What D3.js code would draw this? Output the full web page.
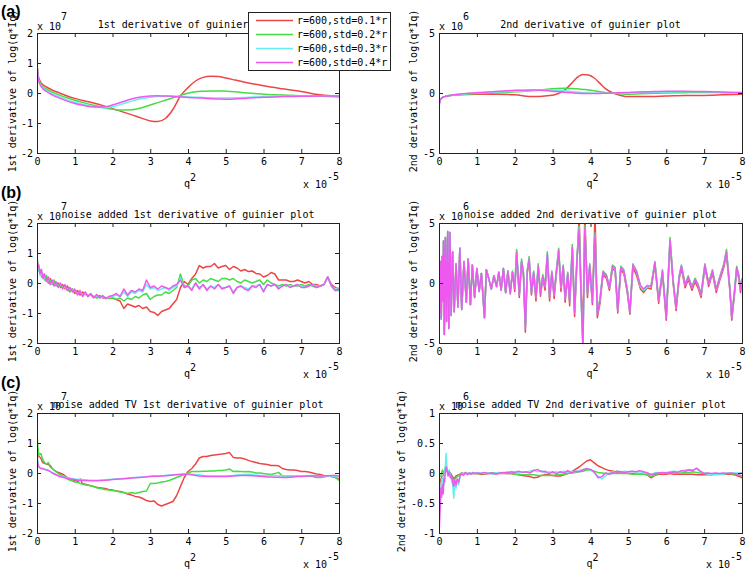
<!DOCTYPE html>
<html><head><meta charset="utf-8">
<script src="https://cdn.jsdelivr.net/npm/d3@7"></script>
<style>
body{margin:0;background:#fff}
svg{display:block}
text{font-family:"DejaVu Sans Mono",monospace;font-size:10px;fill:#000}
text.plabel{font-family:"Liberation Sans",Arial,sans-serif;font-weight:bold;font-size:16px}
</style>
</head><body>
<svg id="chart" width="746" height="569"></svg>
<script>
// ---------- shared ----------
const xTicks = [0,1,2,3,4,5,6,7,8];
const yTicks2 = [-2,-1,0,1,2];
const yTicks5 = [-5,0,5];
const yTicks1 = [-1,-0.5,0,0.5,1];
const seriesLabels = ["r=600,std=0.1*r","r=600,std=0.2*r","r=600,std=0.3*r","r=600,std=0.4*r"];
const seriesColors = ["#ee4646","#46dc46","#66eeee","#ee58ee"];
const panelLabels = ["(a)","(b)","(c)"];
const titles = ["1st derivative of guinier plot","2nd derivative of guinier plot",
  "noise added 1st derivative of guinier plot","noise added 2nd derivative of guinier plot",
  "noise added TV 1st derivative of guinier plot","noise added TV 2nd derivative of guinier plot"];
const yLabels = ["1st derivative of log(q*Iq)","2nd derivative of log(q*Iq)"];

// ---------- (a) left: 1st derivative (x1e-5, y1e7) ----------
const a1X = [0,0.03,0.08,0.15,0.25,0.4,0.6,0.8,1.0,1.25,
  1.5,1.75,2.0,2.25,2.5,2.75,3.0,3.2,3.4,3.6,
  3.8,4.0,4.2,4.4,4.6,4.8,5.0,5.25,5.5,5.75,
  6.0,6.5,7.0,7.5,8.0];
const a1Red = [0.95,0.6,0.4,0.28,0.2,0.1,0.0,-0.1,-0.18,-0.26,
  -0.33,-0.42,-0.52,-0.62,-0.72,-0.83,-0.93,-0.95,-0.85,-0.55,
  -0.1,0.18,0.4,0.52,0.56,0.55,0.5,0.43,0.36,0.3,
  0.24,0.14,0.05,-0.06,-0.11];
const a1Green = [0.95,0.55,0.35,0.22,0.13,0.03,-0.07,-0.16,-0.24,-0.33,
  -0.41,-0.48,-0.54,-0.57,-0.56,-0.5,-0.4,-0.32,-0.24,-0.16,
  -0.08,-0.01,0.04,0.06,0.07,0.07,0.06,0.04,0.01,-0.02,
  -0.04,-0.07,-0.09,-0.11,-0.13];
const a1Cyan = [0.95,0.5,0.3,0.18,0.08,-0.02,-0.13,-0.23,-0.31,-0.39,
  -0.45,-0.49,-0.46,-0.37,-0.27,-0.19,-0.14,-0.12,-0.11,-0.11,
  -0.12,-0.13,-0.14,-0.15,-0.16,-0.17,-0.17,-0.16,-0.15,-0.13,
  -0.12,-0.11,-0.1,-0.1,-0.1];
const a1Magenta = [1.0,0.5,0.28,0.15,0.05,-0.06,-0.17,-0.27,-0.35,-0.42,
  -0.47,-0.47,-0.4,-0.3,-0.2,-0.13,-0.1,-0.09,-0.1,-0.11,
  -0.13,-0.15,-0.16,-0.17,-0.19,-0.2,-0.21,-0.2,-0.18,-0.16,
  -0.14,-0.12,-0.11,-0.1,-0.1];

// ---------- (a) right: 2nd derivative (y1e6) ----------
const a2X = [0,0.03,0.08,0.15,0.3,0.5,1.0,1.5,2.0,2.5,
  2.8,3.1,3.3,3.5,3.65,3.8,3.95,4.1,4.25,4.4,
  4.6,4.8,5.0,5.5,6.0,6.5,7.0,7.5,8.0];
const a2Red = [-1.0,-0.6,-0.4,-0.3,-0.2,-0.15,-0.1,-0.1,-0.15,-0.3,
  -0.25,-0.1,0.2,0.8,1.3,1.55,1.5,1.25,0.8,0.35,
  0.0,-0.2,-0.3,-0.3,-0.25,-0.2,-0.2,-0.15,-0.1];
const a2Green = [-1.0,-0.6,-0.4,-0.3,-0.2,-0.15,-0.05,0.0,0.1,0.2,
  0.3,0.38,0.4,0.38,0.35,0.3,0.25,0.18,0.1,0.03,
  -0.03,-0.07,-0.1,-0.05,0.0,0.03,0.05,0.03,0.0];
const a2Cyan = [-1.1,-0.6,-0.4,-0.3,-0.2,-0.12,0.0,0.08,0.15,0.22,
  0.25,0.22,0.18,0.12,0.08,0.03,0.0,-0.02,-0.03,-0.03,
  -0.02,0.0,0.02,0.05,0.08,0.1,0.1,0.05,0.0];
const a2Magenta = [-1.3,-0.6,-0.4,-0.3,-0.2,-0.1,0.03,0.12,0.22,0.25,
  0.2,0.12,0.07,0.02,-0.02,-0.04,-0.05,-0.05,-0.04,-0.02,
  0.0,0.03,0.05,0.1,0.15,0.15,0.12,0.08,0.05];

// ---------- (b) left: noisy 1st derivative ----------
const b1X = [0,0.02,0.05,0.08,0.12,0.16,0.2,0.25,0.3,0.35,
  0.4,0.45,0.5,0.56,0.62,0.68,0.74,0.8,0.87,0.94,
  1.0,1.07,1.14,1.21,1.28,1.35,1.42,1.5,1.58,1.66,
  1.74,1.82,1.9,
  2.0,2.1,2.2,2.3,2.4,2.5,2.6,2.7,2.8,2.9,
  3.0,3.1,3.2,3.3,3.4,3.5,3.6,3.7,3.8,3.9,
  4.0,4.1,4.2,4.3,4.4,4.5,4.6,4.7,4.8,4.9,
  5.0,5.1,5.2,5.3,5.4,5.5,5.6,5.7,5.8,5.9,
  6.0,6.1,6.2,6.3,6.4,6.5,6.6,6.7,6.8,6.9,
  7.0,7.1,7.2,7.3,7.4,7.5,7.6,7.7,7.8,7.9,
  8.0];
const b1Red = [0.85,0.55,0.45,0.35,0.3,0.25,0.15,0.2,0.0,0.15,
  0.0,0.05,-0.05,0.0,-0.15,-0.05,-0.2,-0.1,-0.25,-0.2,
  -0.35,-0.25,-0.4,-0.3,-0.38,-0.42,-0.4,-0.45,-0.48,-0.42,
  -0.5,-0.48,-0.52,
  -0.5,-0.55,-0.6,-0.85,-0.7,-0.75,-0.8,-0.75,-0.85,-0.8,
  -0.95,-0.98,-1.08,-0.95,-0.9,-0.85,-0.7,-0.55,-0.15,0.05,
  -0.05,0.15,0.3,0.58,0.5,0.55,0.55,0.65,0.5,0.55,
  0.58,0.45,0.55,0.5,0.4,0.45,0.38,0.4,0.32,0.3,
  0.2,0.25,0.35,0.3,0.1,0.1,0.1,0.05,0.05,0.1,
  0.05,0.0,0.05,-0.05,-0.05,-0.1,-0.05,0.2,-0.05,-0.15,
  -0.2];
const b1Green = [0.9,0.6,0.4,0.45,0.2,0.3,0.1,0.25,0.05,0.1,
  -0.05,0.1,-0.1,-0.05,-0.1,-0.15,-0.1,-0.2,-0.3,-0.2,
  -0.28,-0.35,-0.3,-0.4,-0.35,-0.45,-0.38,-0.45,-0.5,-0.45,
  -0.48,-0.5,-0.5,
  -0.5,-0.55,-0.5,-0.6,-0.5,-0.55,-0.45,-0.5,-0.4,-0.35,
  -0.55,-0.45,-0.4,-0.4,-0.3,-0.35,-0.25,-0.15,0.3,-0.1,
  -0.1,0.1,0.15,0.0,0.1,0.05,0.15,0.1,0.05,0.15,
  0.15,0.1,0.15,0.05,0.0,0.1,0.05,0.0,0.05,0.1,
  -0.05,0.1,0.0,-0.05,-0.1,-0.05,-0.1,-0.05,-0.1,-0.1,
  -0.05,-0.1,-0.05,-0.1,-0.15,-0.1,-0.05,0.2,-0.1,-0.25,
  -0.25];
const b1Cyan = [0.9,0.5,0.5,0.25,0.35,0.15,0.2,0.05,0.15,-0.05,
  0.05,-0.05,0.0,-0.1,-0.05,-0.15,-0.15,-0.2,-0.2,-0.25,
  -0.25,-0.35,-0.3,-0.42,-0.35,-0.45,-0.38,-0.48,-0.42,-0.5,
  -0.45,-0.5,-0.48,
  -0.45,-0.4,-0.45,-0.3,-0.45,-0.3,-0.35,-0.25,-0.3,-0.05,
  -0.2,-0.15,-0.25,-0.2,-0.15,-0.25,-0.15,-0.1,0.15,-0.15,
  -0.1,-0.2,0.0,-0.15,-0.05,-0.2,-0.1,-0.15,-0.05,-0.15,
  -0.15,-0.1,-0.3,-0.15,-0.1,-0.15,-0.2,-0.1,-0.1,-0.05,
  -0.25,-0.05,-0.1,-0.05,-0.15,-0.1,-0.05,-0.1,-0.1,-0.05,
  -0.1,-0.15,-0.1,-0.05,-0.1,-0.1,-0.05,0.2,-0.1,-0.2,
  -0.15];
const b1Magenta = [0.95,0.5,0.6,0.3,0.45,0.15,0.3,0.05,0.2,-0.05,
  0.1,-0.1,0.05,-0.15,0.0,-0.2,-0.05,-0.25,-0.15,-0.3,
  -0.2,-0.4,-0.25,-0.45,-0.3,-0.45,-0.35,-0.5,-0.38,-0.5,
  -0.42,-0.52,-0.45,
  -0.42,-0.35,-0.45,-0.2,-0.4,-0.25,-0.3,-0.2,-0.25,0.1,
  -0.15,-0.1,-0.2,-0.1,-0.15,-0.2,-0.1,-0.05,0.1,-0.15,
  -0.1,-0.25,0.0,-0.2,-0.05,-0.25,-0.1,-0.2,-0.05,-0.2,
  -0.15,-0.1,-0.35,-0.15,-0.1,-0.2,-0.25,-0.1,-0.15,-0.05,
  -0.3,-0.05,-0.1,-0.05,-0.2,-0.1,-0.05,-0.15,-0.1,-0.05,
  -0.15,-0.15,-0.1,-0.05,-0.15,-0.1,-0.05,0.2,-0.1,-0.25,
  -0.2];

// ---------- (b) right: noisy 2nd derivative ----------
const b2X = [0,0.02,0.04,0.06,0.08,0.10,0.12,0.14,0.17,0.20,
  0.23,0.26,0.29,0.32,0.36,0.40,0.45,0.50,0.55,0.60,
  0.66,0.72,0.77,0.83,0.88,0.94,1.00,1.06,1.12,1.20,
  1.25,1.32,1.38,1.45,1.52,1.58,1.64,1.70,1.76,1.82,
  1.88,1.94,2.00,2.05,2.12,2.18,2.23,2.28,2.33,2.38,
  2.44,2.50,2.56,2.62,2.68,2.74,2.80,2.86,2.92,2.98,
  3.04,3.10,3.16,3.22,3.28,3.33,3.40,3.45,3.52,3.58,
  3.64,3.70,3.75,3.80,3.85,3.92,3.98,4.05,4.12,4.18,
  4.25,4.33,4.42,4.50,4.58,4.65,4.72,4.80,4.88,4.97,
  5.04,5.12,5.22,5.32,5.40,5.50,5.60,5.70,5.80,5.90,
  6.00,6.10,6.18,6.26,6.34,6.40,6.50,6.58,6.68,6.76,
  6.84,6.92,7.02,7.12,7.22,7.32,7.42,7.52,7.59,7.68,
  7.73,7.80,7.86,7.92,7.96,8.00];
const b2Red = [1.5,-2.5,1.8,-3.0,2.2,-1.5,3.5,-4.3,3.8,-3.2,
  4.3,-3.8,4.2,-2.7,2.6,-2.4,1.6,-2.0,2.9,-2.2,
  1.8,-1.6,2.0,-1.8,1.5,-1.2,1.2,-0.7,0.8,-2.9,
  1.1,0.3,-0.5,0.6,-0.3,0.9,-0.6,1.2,-0.8,1.0,
  -0.9,0.9,-0.7,2.4,-1.2,1.6,0.6,-4.1,0.8,1.8,
  -1.0,0.7,-1.5,1.2,-1.1,0.4,-0.6,2.2,-1.5,0.7,
  -1.3,0.8,2.5,-0.7,1.2,-1.6,0.6,-1.9,2.6,-2.8,
  1.6,5.6,-0.5,-4.0,5.8,-1.2,1.3,-1.8,5.8,-2.9,
  -1.7,0.7,0.4,-0.6,1.2,1.0,-2.5,1.1,0.8,-0.8,
  -2.6,1.3,0.6,-0.5,-0.8,-0.4,-0.5,1.5,-1.7,0.8,
  -3.1,3.4,0.0,-2.3,0.3,1.2,-0.4,0.3,-0.6,0.1,
  -0.4,-1.2,1.3,-0.3,0.8,-0.8,0.3,1.3,2.4,-0.7,
  -3.1,-1.0,1.1,0.3,-0.8,0.1];
const b2Green = [1.5,-2.5,1.8,-3.0,2.2,-1.5,3.5,-4.3,3.8,-3.2,
  4.3,-3.8,4.2,-2.7,2.6,-2.4,1.6,-2.0,2.9,-2.2,
  1.8,-1.6,2.0,-1.8,1.5,-1.2,1.2,-0.7,0.8,-2.9,
  1.1,0.3,-0.5,0.6,-0.3,0.9,-0.6,1.2,-0.8,1.0,
  -0.8,1.0,-0.4,2.8,-0.9,2.0,0.9,-3.6,1.1,2.2,
  -0.7,1.0,-1.1,1.6,-0.8,0.7,-0.2,2.6,-1.1,1.0,
  -0.9,1.1,2.9,-0.3,1.5,-1.2,0.9,-1.5,3.2,-2.4,
  1.9,4.8,-0.9,-5.3,4.8,-0.8,1.6,-1.5,4.2,-2.5,
  -1.3,1.0,0.7,-0.3,1.5,1.3,-2.2,1.4,1.1,-0.5,
  -2.3,1.6,1.0,-0.35,-0.65,-0.35,-0.2,1.8,-1.4,1.1,
  -2.8,3.8,0.3,-2.0,0.6,1.5,-0.1,0.6,-0.3,0.4,
  -0.1,-0.9,1.6,0.0,1.1,-0.5,0.6,1.6,2.8,-0.4,
  -2.8,-0.7,1.4,0.6,-0.5,0.4];
const b2Cyan = [1.5,-2.5,1.8,-3.0,2.2,-1.5,3.5,-4.3,3.8,-3.2,
  4.3,-3.8,4.2,-2.7,2.6,-2.4,1.6,-2.0,2.9,-2.2,
  1.8,-1.6,2.0,-1.8,1.5,-1.2,1.2,-0.7,0.8,-2.9,
  1.1,0.3,-0.5,0.6,-0.3,0.9,-0.6,1.2,-0.8,1.0,
  -0.9,0.9,-0.5,2.6,-1.0,1.8,0.8,-3.8,1.0,2.0,
  -0.8,0.9,-1.2,1.4,-0.9,0.6,-0.3,2.4,-1.2,0.9,
  -1.0,1.0,2.7,-0.4,1.4,-1.3,0.8,-1.6,3.0,-2.5,
  1.8,4.6,-1.0,-5.4,4.6,-0.9,1.5,-1.6,4.0,-2.6,
  -1.4,0.9,0.6,-0.4,1.4,1.2,-2.3,1.3,1.0,-0.6,
  -2.4,1.5,0.9,-0.3,-0.6,-0.3,-0.3,1.7,-1.5,1.0,
  -2.9,3.6,0.2,-2.1,0.5,1.4,-0.2,0.5,-0.4,0.3,
  -0.2,-1.0,1.5,-0.1,1.0,-0.6,0.5,1.5,2.6,-0.5,
  -2.9,-0.8,1.3,0.5,-0.6,0.3];
const b2Magenta = [1.5,-2.5,1.8,-3.0,2.2,-1.5,3.5,-4.3,3.8,-3.2,
  4.3,-3.8,4.2,-2.7,2.6,-2.4,1.6,-2.0,2.9,-2.2,
  1.8,-1.6,2.0,-1.8,1.5,-1.2,1.2,-0.7,0.8,-2.9,
  1.1,0.3,-0.5,0.6,-0.3,0.9,-0.6,1.2,-0.8,1.0,
  -0.9,0.9,-0.5,2.6,-1.0,1.8,0.8,-3.8,1.0,2.0,
  -0.8,0.9,-1.2,1.4,-0.9,0.6,-0.3,2.4,-1.2,0.9,
  -1.0,1.0,2.7,-0.4,1.4,-1.3,0.8,-1.6,3.0,-2.5,
  1.8,4.5,-1.0,-5.5,4.6,-0.9,1.5,-1.6,4.0,-2.6,
  -1.4,0.9,0.6,-0.4,1.4,1.2,-2.3,1.3,1.0,-0.6,
  -2.4,1.5,0.9,-0.2,-0.5,-0.2,-0.3,1.7,-1.5,1.0,
  -2.9,3.6,0.2,-2.1,0.5,1.4,-0.2,0.5,-0.4,0.3,
  -0.2,-1.0,1.5,-0.1,1.0,-0.6,0.5,1.5,2.6,-0.5,
  -2.9,-0.8,1.3,0.5,-0.6,0.3];

// ---------- (c) left: TV 1st derivative ----------
const c1X = [0,0.02,0.05,0.1,0.15,0.2,0.25,0.3,0.35,0.4,
  0.5,0.6,0.7,0.8,0.9,1.0,1.1,1.15,1.2,1.3,
  1.4,1.5,1.6,1.7,1.8,1.9,2.0,2.1,2.2,2.3,
  2.4,2.5,2.6,2.7,2.8,2.9,3.0,3.1,3.2,3.3,
  3.4,3.5,3.6,3.7,3.8,3.9,4.0,4.1,4.2,4.3,
  4.4,4.5,4.6,4.7,4.8,4.9,5.0,5.1,5.2,5.3,
  5.4,5.5,5.6,5.7,5.8,5.9,6.0,6.1,6.2,6.3,
  6.4,6.5,6.6,6.7,6.8,6.9,7.0,7.1,7.2,7.3,
  7.4,7.5,7.6,7.7,7.8,7.9,8.0];
const c1Red = [0.8,0.6,0.55,0.5,0.35,0.32,0.3,0.28,0.25,0.15,
  0.05,0.0,-0.05,-0.15,-0.2,-0.25,-0.28,-0.2,-0.35,-0.38,
  -0.42,-0.45,-0.48,-0.5,-0.52,-0.55,-0.57,-0.6,-0.62,-0.65,
  -0.7,-0.73,-0.78,-0.8,-0.85,-0.92,-0.95,-0.93,-1.05,-1.1,
  -1.05,-1.0,-0.95,-0.75,-0.45,-0.15,0.05,0.15,0.3,0.5,
  0.55,0.55,0.58,0.6,0.62,0.63,0.65,0.68,0.52,0.5,
  0.5,0.47,0.42,0.38,0.35,0.32,0.3,0.28,0.25,0.25,
  0.24,0.15,0.12,0.1,0.1,0.08,0.05,0.05,0.03,0.0,
  -0.03,-0.05,-0.08,-0.1,-0.12,-0.15,-0.2];
const c1Green = [1.4,0.9,0.6,0.65,0.45,0.35,0.3,0.35,0.2,0.15,
  0.05,-0.05,-0.1,-0.2,-0.25,-0.3,-0.32,-0.35,-0.37,-0.4,
  -0.42,-0.45,-0.5,-0.52,-0.55,-0.57,-0.58,-0.6,-0.63,-0.65,
  -0.68,-0.65,-0.68,-0.65,-0.62,-0.6,-0.35,-0.35,-0.33,-0.3,
  -0.28,-0.25,-0.2,-0.15,-0.1,-0.05,0.0,0.05,0.05,0.05,
  0.06,0.06,0.07,0.07,0.08,0.08,0.1,0.13,0.05,0.06,
  0.05,0.04,0.05,0.03,0.0,0.0,-0.02,-0.03,-0.05,-0.02,
  0.02,-0.1,-0.1,-0.1,-0.1,-0.1,-0.1,-0.1,-0.1,-0.12,
  -0.15,-0.15,-0.13,-0.1,-0.1,-0.15,-0.25];
const c1Cyan = [0.7,0.4,0.2,0.15,0.15,0.12,0.12,0.1,0.05,0.02,
  -0.05,-0.1,-0.13,-0.16,-0.18,-0.2,-0.21,-0.22,-0.22,-0.23,
  -0.24,-0.24,-0.24,-0.24,-0.23,-0.22,-0.21,-0.2,-0.19,-0.18,
  -0.17,-0.16,-0.15,-0.14,-0.13,-0.12,-0.11,-0.1,-0.1,-0.09,
  -0.08,-0.07,-0.06,-0.05,-0.04,-0.03,-0.03,-0.04,-0.05,-0.06,
  -0.08,-0.09,-0.1,-0.1,-0.1,-0.1,-0.1,-0.09,-0.08,-0.07,
  -0.06,-0.05,-0.05,-0.06,-0.07,-0.08,-0.08,-0.08,-0.08,-0.08,
  -0.09,-0.1,-0.1,-0.1,-0.1,-0.1,-0.1,-0.09,-0.08,-0.08,
  -0.08,-0.09,-0.1,-0.1,-0.1,-0.12,-0.15];
const c1Magenta = [0.55,0.3,0.2,0.15,0.15,0.12,0.1,0.08,0.05,0.0,
  -0.06,-0.12,-0.15,-0.18,-0.2,-0.22,-0.24,-0.24,-0.25,-0.25,
  -0.26,-0.26,-0.26,-0.25,-0.24,-0.23,-0.22,-0.21,-0.2,-0.19,
  -0.18,-0.17,-0.16,-0.15,-0.14,-0.13,-0.12,-0.11,-0.11,-0.1,
  -0.09,-0.08,-0.07,-0.06,-0.05,-0.04,-0.04,-0.06,-0.08,-0.1,
  -0.11,-0.12,-0.12,-0.12,-0.12,-0.12,-0.12,-0.11,-0.1,-0.09,
  -0.08,-0.08,-0.08,-0.09,-0.1,-0.11,-0.12,-0.13,-0.13,-0.14,
  -0.14,-0.15,-0.15,-0.14,-0.13,-0.12,-0.12,-0.11,-0.1,-0.1,
  -0.1,-0.1,-0.1,-0.09,-0.08,-0.08,-0.1];

// ---------- (c) right: TV 2nd derivative ----------
const c2X = [0,0.01,0.03,0.05,0.07,0.09,0.11,0.13,0.15,0.17,
  0.19,0.21,0.24,0.27,0.3,0.33,0.36,0.39,0.42,0.45,
  0.48,0.52,0.56,0.6,0.65,0.7,0.75,0.8,0.85,0.9,
  0.95,1.0,1.1,1.2,1.3,1.4,1.5,1.6,1.7,1.8,
  1.9,2.0,2.1,2.2,2.3,2.4,2.5,2.6,2.7,2.8,
  2.9,3.0,3.1,3.2,3.3,3.4,3.5,3.6,3.7,3.8,
  3.9,4.0,4.1,4.2,4.3,4.4,4.5,4.6,4.7,4.8,
  4.9,5.0,5.1,5.2,5.3,5.4,5.5,5.6,5.7,5.8,
  5.9,6.0,6.1,6.2,6.3,6.4,6.5,6.6,6.7,6.8,
  6.9,7.0,7.1,7.2,7.3,7.4,7.5,7.6,7.7,7.8,
  7.9,8.0];
const c2Red = [-0.3,-0.25,-0.15,-0.1,-0.08,-0.05,-0.05,0.0,0.02,0.05,
  0.05,0.03,0.0,0.0,0.0,-0.03,-0.06,-0.1,-0.08,-0.05,
  -0.04,-0.03,-0.02,0.0,-0.01,0.0,-0.01,-0.01,-0.01,-0.01,
  -0.01,-0.01,-0.02,-0.02,-0.01,-0.01,-0.01,-0.01,-0.01,-0.01,
  -0.01,-0.02,-0.03,-0.04,-0.05,-0.06,-0.08,-0.07,-0.04,-0.03,
  -0.03,-0.04,-0.05,-0.05,-0.03,-0.01,0.02,0.06,0.1,0.15,
  0.2,0.22,0.17,0.12,0.09,0.06,0.04,0.03,0.01,0.0,
  0.0,-0.01,-0.01,-0.02,-0.02,-0.02,-0.03,-0.08,-0.04,-0.02,
  -0.02,-0.02,-0.01,-0.02,-0.02,-0.02,-0.02,-0.02,-0.02,-0.03,
  -0.03,-0.03,-0.03,-0.03,-0.02,-0.02,-0.02,-0.02,-0.02,-0.03,
  -0.05,-0.08];
const c2Green = [-0.1,-0.08,-0.05,-0.05,0.0,0.05,0.02,0.0,0.05,0.08,
  0.1,0.05,0.0,0.0,0.0,-0.05,-0.1,-0.15,-0.1,-0.08,
  -0.06,-0.04,-0.02,0.0,-0.01,-0.01,-0.01,-0.01,-0.01,-0.01,
  -0.01,-0.01,-0.01,-0.01,0.0,0.0,0.0,0.0,0.0,-0.01,
  -0.01,-0.02,-0.02,-0.03,-0.03,-0.03,-0.03,-0.04,-0.04,-0.04,
  -0.04,-0.04,-0.03,-0.03,-0.02,-0.01,0.0,0.01,0.02,0.03,
  0.05,0.05,0.03,0.01,0.0,-0.01,-0.01,-0.01,-0.01,-0.01,
  -0.01,-0.01,-0.02,-0.02,-0.02,-0.02,-0.03,-0.06,-0.03,-0.01,
  0.0,0.0,0.0,0.01,0.0,0.0,0.01,0.01,0.02,0.01,
  0.0,-0.01,-0.01,-0.02,-0.02,-0.02,-0.02,-0.01,-0.01,-0.02,
  -0.03,-0.05];
const c2Cyan = [-0.4,-0.2,-0.5,-0.3,-0.1,-0.25,-0.05,-0.2,0.05,0.15,
  0.33,0.1,0.0,0.05,-0.05,-0.1,-0.2,-0.42,-0.15,-0.25,
  -0.1,-0.2,-0.05,-0.02,-0.02,0.0,-0.02,0.01,-0.01,0.0,
  0.0,0.01,0.0,-0.01,0.01,-0.02,0.0,0.01,0.0,0.02,
  0.01,0.02,0.0,0.02,0.01,0.03,0.05,0.02,0.04,0.0,
  0.02,0.0,0.02,0.0,0.03,0.01,0.03,0.02,0.04,0.06,
  0.08,0.05,0.0,-0.05,-0.1,-0.05,0.0,0.02,0.03,0.02,
  0.03,0.02,0.03,0.01,0.02,0.01,0.0,-0.02,0.0,0.01,
  0.0,0.01,0.02,0.03,0.02,0.03,0.05,0.06,0.05,0.07,
  0.02,0.0,-0.02,-0.03,-0.03,-0.03,-0.02,0.0,0.0,0.0,
  0.0,0.0];
const c2Magenta = [-1.2,-0.9,-0.6,-0.25,-0.4,-0.2,-0.35,-0.1,-0.15,0.05,
  0.1,0.05,-0.05,0.02,-0.08,-0.05,-0.15,-0.22,-0.12,-0.2,
  -0.1,-0.15,-0.03,-0.02,-0.04,0.01,-0.03,0.0,-0.02,0.01,
  -0.01,0.0,-0.01,0.01,-0.01,0.0,-0.02,0.0,0.01,0.0,
  0.02,0.01,0.03,0.01,0.02,0.0,0.04,0.06,0.02,0.03,
  -0.01,0.02,-0.01,0.02,0.0,0.04,0.0,0.03,0.02,0.05,
  0.07,0.06,0.02,-0.08,-0.06,0.0,-0.02,0.01,0.03,0.02,
  0.01,0.02,0.03,0.02,0.04,0.02,0.0,-0.03,-0.01,0.0,
  0.01,0.0,0.01,0.02,0.01,0.04,0.03,0.05,0.04,0.08,
  0.03,-0.01,0.0,-0.01,0.0,-0.01,0.0,-0.01,0.0,-0.01,
  -0.02,0.0];

// ---------- drawing ----------
const svg = d3.select("#chart");
const defs = svg.append("defs");

function drawPanel(o) {
  const x = d3.scaleLinear().domain([0, 8]).range([o.left, o.left + o.w]);
  const y = d3.scaleLinear().domain(o.yDomain).range([o.top + o.h, o.top]);
  const g = svg.append("g");
  const cid = "clip" + o.id;
  defs.append("clipPath").attr("id", cid).append("rect")
    .attr("x", o.left).attr("y", o.top).attr("width", o.w + 1).attr("height", o.h + 1);

  const line = d3.line().x(d => x(d[0])).y(d => y(d[1]));
  if (o.smooth) line.curve(d3.curveMonotoneX);
  const lg = g.append("g").attr("clip-path", `url(#${cid})`);
  o.series.forEach((s, i) => {
    lg.append("path").datum(d3.zip(s.x, s.y))
      .attr("d", line).attr("fill", "none")
      .attr("stroke", seriesColors[i]).attr("stroke-width", 1.5)
      .attr("stroke-linejoin", "round");
  });

  const fmt = d => String(d);
  const axCol = "#222";
  const bx = g.append("g").attr("transform", `translate(0,${o.top + o.h})`)
    .call(d3.axisBottom(x).tickValues(xTicks).tickSize(-4).tickPadding(5).tickFormat(fmt));
  const tx = g.append("g").attr("transform", `translate(0,${o.top})`)
    .call(d3.axisTop(x).tickValues(xTicks).tickSize(-4).tickFormat(""));
  const ly = g.append("g").attr("transform", `translate(${o.left},0)`)
    .call(d3.axisLeft(y).tickValues(o.yTicks).tickSize(-4).tickPadding(4).tickFormat(fmt));
  const ry = g.append("g").attr("transform", `translate(${o.left + o.w},0)`)
    .call(d3.axisRight(y).tickValues(o.yTicks).tickSize(-4).tickFormat(""));
  [bx, tx, ly, ry].forEach(a => { a.select(".domain").remove(); a.attr("color", axCol); });

  g.append("rect").attr("x", o.left + 0.5).attr("y", o.top + 0.5)
    .attr("width", o.w).attr("height", o.h)
    .attr("fill", "none").attr("stroke", axCol).attr("stroke-width", 1);

  const cx = o.left + o.w / 2;
  g.append("text").attr("x", cx).attr("y", o.top - 5).attr("text-anchor", "middle").text(o.title);
  g.append("text").attr("x", o.left).attr("y", o.top - 3).text("x 10");
  g.append("text").attr("x", o.left + 24).attr("y", o.top - 13).text(o.yExp);
  g.append("text").attr("x", cx - 1).attr("y", o.top + o.h + 34).attr("text-anchor", "middle").text("q");
  g.append("text").attr("x", cx + 2).attr("y", o.top + o.h + 28).text("2");
  g.append("text").attr("x", o.left + o.w - 36).attr("y", o.top + o.h + 35).text("x 10");
  g.append("text").attr("x", o.left + o.w - 12).attr("y", o.top + o.h + 27).text("-5");
  g.append("text")
    .attr("transform", `translate(${o.ylx},${o.top + o.h / 2 - 2}) rotate(-90)`)
    .attr("text-anchor", "middle").attr("dy", "0.35em").text(o.ylabel);
}

function mk(xs, ys) { return ys.map(v => ({ x: xs, y: v })); }

const L = { left: 37, w: 302, ylx: 12 };
const R = { left: 439, w: 303, ylx: 413 };
const tops = [33, 223, 413];
const H = 120;

drawPanel({ id: "a1", ...L, top: tops[0], h: H, yDomain: [-2, 2], yTicks: yTicks2, yExp: "7",
  title: titles[0], ylabel: yLabels[0], smooth: true,
  series: mk(a1X, [a1Red, a1Green, a1Cyan, a1Magenta]) });
drawPanel({ id: "a2", ...R, top: tops[0], h: H, yDomain: [-5, 5], yTicks: yTicks5, yExp: "6",
  title: titles[1], ylabel: yLabels[1], smooth: true,
  series: mk(a2X, [a2Red, a2Green, a2Cyan, a2Magenta]) });
drawPanel({ id: "b1", ...L, top: tops[1], h: H, yDomain: [-2, 2], yTicks: yTicks2, yExp: "7",
  title: titles[2], ylabel: yLabels[0],
  series: mk(b1X, [b1Red, b1Green, b1Cyan, b1Magenta]) });
drawPanel({ id: "b2", ...R, top: tops[1], h: H, yDomain: [-5, 5], yTicks: yTicks5, yExp: "6",
  title: titles[3], ylabel: yLabels[1],
  series: mk(b2X, [b2Red, b2Green, b2Cyan, b2Magenta]) });
drawPanel({ id: "c1", ...L, top: tops[2], h: H, yDomain: [-2, 2], yTicks: yTicks2, yExp: "7",
  title: titles[4], ylabel: yLabels[0],
  series: mk(c1X, [c1Red, c1Green, c1Cyan, c1Magenta]) });
drawPanel({ id: "c2", ...R, ylx: 401, top: tops[2], h: H, yDomain: [-1, 1], yTicks: yTicks1, yExp: "6",
  title: titles[5], ylabel: yLabels[1],
  series: mk(c2X, [c2Red, c2Green, c2Cyan, c2Magenta]) });

[17, 198, 388].forEach((yy, i) => {
  svg.append("text").attr("class", "plabel").attr("x", 1).attr("y", yy).text(panelLabels[i]);
});

const lgd = svg.append("g");
lgd.append("rect").attr("x", 248.5).attr("y", 12.5).attr("width", 142).attr("height", 58)
  .attr("fill", "#fff").attr("stroke", "#222");
seriesLabels.forEach((lab, i) => {
  const yy = 20.5 + i * 14;
  lgd.append("line").attr("x1", 256).attr("x2", 293).attr("y1", yy).attr("y2", yy)
    .attr("stroke", seriesColors[i]).attr("stroke-width", 1.5);
  lgd.append("text").attr("x", 297).attr("y", yy).attr("dy", "0.35em").text(lab);
});
</script>
</body></html>
